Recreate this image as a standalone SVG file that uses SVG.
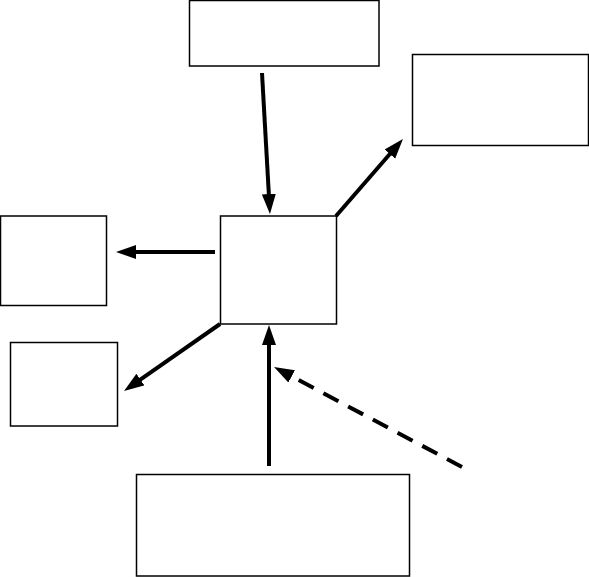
<svg xmlns="http://www.w3.org/2000/svg" width="589" height="577" viewBox="0 0 589 577">
<style>
.node rect{fill:#fff;stroke:#000;stroke-width:1.5}
.edge{stroke:#000;stroke-width:4;fill:none;marker-end:url(#ah)}
.dash{stroke-dasharray:17 11}
</style>
<defs>
<marker id="ah" markerUnits="userSpaceOnUse" markerWidth="22" markerHeight="16" refX="1" refY="7" orient="auto">
<path d="M0,0 L20,7 L0,14 z" fill="#000"/>
</marker>
</defs>
<rect width="589" height="577" fill="#fff"/>
<g id="top"  class="node"><rect x="189.5" y="0.5" width="189.5" height="65.5"/></g>
<g id="right" class="node"><rect x="412.5" y="54.5" width="176" height="91"/></g>
<g id="left" class="node"><rect x="0.5" y="216" width="106" height="89.5"/></g>
<g id="center" class="node"><rect x="220.5" y="216" width="116" height="108"/></g>
<g id="lowerleft" class="node"><rect x="10.5" y="342.5" width="107" height="83.5"/></g>
<g id="bottom" class="node"><rect x="136.5" y="474.5" width="273" height="101.5"/></g>
<g id="connectors">
<line class="edge" x1="262" y1="73" x2="268.9" y2="195"/>
<line class="edge" x1="215" y1="252" x2="135" y2="252"/>
<line class="edge" x1="336" y1="216" x2="390.5" y2="153.3"/>
<line class="edge" x1="220" y1="324" x2="139.6" y2="380.1"/>
<line class="edge" x1="269" y1="466" x2="269" y2="344"/>
<line class="edge dash" x1="462" y1="467" x2="290.8" y2="375.9"/>
</g>
</svg>
